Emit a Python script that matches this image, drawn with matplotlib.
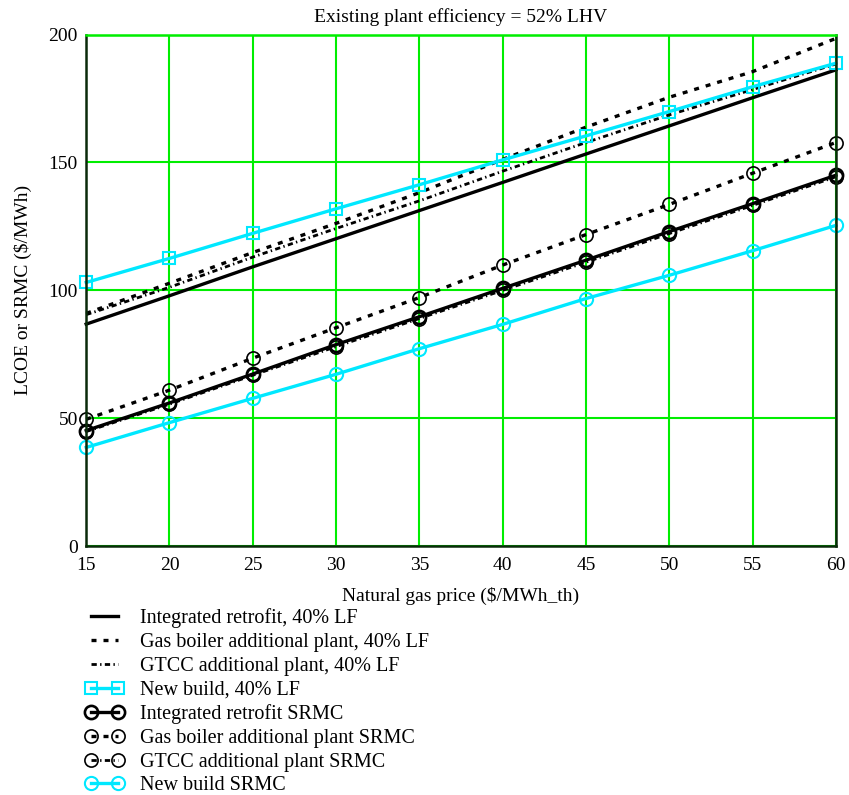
import matplotlib
matplotlib.use("Agg")
import matplotlib.pyplot as plt

plt.rcParams['font.family'] = ['Liberation Serif', 'DejaVu Serif']

gas_price = [15, 20, 25, 30, 35, 40, 45, 50, 55, 60]

# Levelised cost of electricity at 40% load factor ($/MWh)
integrated_lf = [86.8, 97.9, 109.2, 120.2, 131.2, 142.2, 153.3, 164.3, 175.3, 186.2]
gas_boiler_lf = [91.0, 102.8, 114.8, 126.2, 138.2, 151.2, 163.8, 175.5, 185.5, 198.5]
gtcc_lf = [90.5, 101.2, 113.0, 124.2, 135.0, 146.6, 157.8, 168.6, 178.5, 188.5]
new_build_lf = [103.1, 112.5, 122.3, 131.9, 141.3, 151.0, 160.4, 169.9, 179.6, 188.8]

# Short-run marginal cost ($/MWh)
integrated_srmc = [45.2, 56.0, 67.3, 78.8, 89.7, 100.8, 111.8, 123.0, 133.9, 145.0]
gas_boiler_srmc = [49.6, 61.0, 73.5, 85.4, 97.2, 109.9, 121.8, 133.6, 145.8, 157.8]
gtcc_srmc = [44.8, 55.5, 66.8, 78.0, 89.0, 100.0, 111.0, 122.2, 133.2, 144.4]
new_build_srmc = [38.6, 48.3, 57.8, 67.2, 77.2, 86.7, 96.8, 105.9, 115.5, 125.4]

series_labels = [
    "Integrated retrofit, 40% LF",
    "Gas boiler additional plant, 40% LF",
    "GTCC additional plant, 40% LF",
    "New build, 40% LF",
    "Integrated retrofit SRMC",
    "Gas boiler additional plant SRMC",
    "GTCC additional plant SRMC",
    "New build SRMC",
]

x_ticks = [15, 20, 25, 30, 35, 40, 45, 50, 55, 60]
y_ticks = [0, 50, 100, 150, 200]

CYAN = "#00e8ff"
GRID = "#00ee00"

fig = plt.figure(figsize=(8.49, 7.95), dpi=100)
ax = fig.add_axes([0.1015, 0.313, 0.883, 0.6435])

dash = (0, (1.5, 2.1))
dashdot = (0, (1.9, 1.2, 0.5, 1.2))
ms_c = 9.5
ms_s = 9

ax.plot(gas_price, integrated_lf, color="black", lw=2.4, label=series_labels[0])
ax.plot(gas_price, gas_boiler_lf, color="black", lw=2.4, linestyle=dash, label=series_labels[1])
ax.plot(gas_price, gtcc_lf, color="black", lw=2.0, linestyle=dashdot, label=series_labels[2])
ax.plot(gas_price, new_build_lf, color=CYAN, lw=2.4, marker="s", ms=ms_s,
        mfc="none", mec=CYAN, mew=1.5, label=series_labels[3])
ax.plot(gas_price, integrated_srmc, color="black", lw=2.4, marker="o", ms=ms_c,
        mfc="none", mec="black", mew=1.9, label=series_labels[4])
ax.plot(gas_price, gas_boiler_srmc, color="black", lw=2.4, linestyle=dash, marker="o", ms=ms_c,
        mfc="none", mec="black", mew=1.2, label=series_labels[5])
ax.plot(gas_price, gtcc_srmc, color="black", lw=2.0, linestyle=dashdot, marker="o", ms=ms_c,
        mfc="none", mec="black", mew=1.2, label=series_labels[6])
ax.plot(gas_price, new_build_srmc, color=CYAN, lw=2.4, marker="o", ms=ms_c,
        mfc="none", mec=CYAN, mew=1.5, label=series_labels[7])

for line in ax.get_lines():
    line.set_clip_on(False)

ax.set_xlim(15, 60)
ax.set_ylim(0, 200)
ax.set_xticks(x_ticks)
ax.set_yticks(y_ticks)
ax.tick_params(length=0, labelsize=14, pad=6)
ax.tick_params(axis="x", pad=8)
ax.grid(True, color=GRID, lw=1.5)
ax.set_axisbelow(True)
for side in ["left", "bottom", "right"]:
    ax.spines[side].set_color("#0a2a0a")
    ax.spines[side].set_linewidth(1.8)
ax.spines["top"].set_color(GRID)
ax.spines["top"].set_linewidth(1.8)

ax.set_title("Existing plant efficiency = 52% LHV", fontsize=14, pad=9)
ax.set_xlabel(r"Natural gas price (\$/MWh_th)", fontsize=14, labelpad=9)
ax.set_ylabel(r"LCOE or SRMC (\$/MWh)", fontsize=14, labelpad=12)

fig.legend(loc="upper left", bbox_to_anchor=(0.1001, 0.2346), frameon=False,
           fontsize=14.5, numpoints=2, handlelength=1.95, handletextpad=0.8,
           labelspacing=0.23, borderaxespad=0, borderpad=0)

fig.savefig("out.png", dpi=100)
